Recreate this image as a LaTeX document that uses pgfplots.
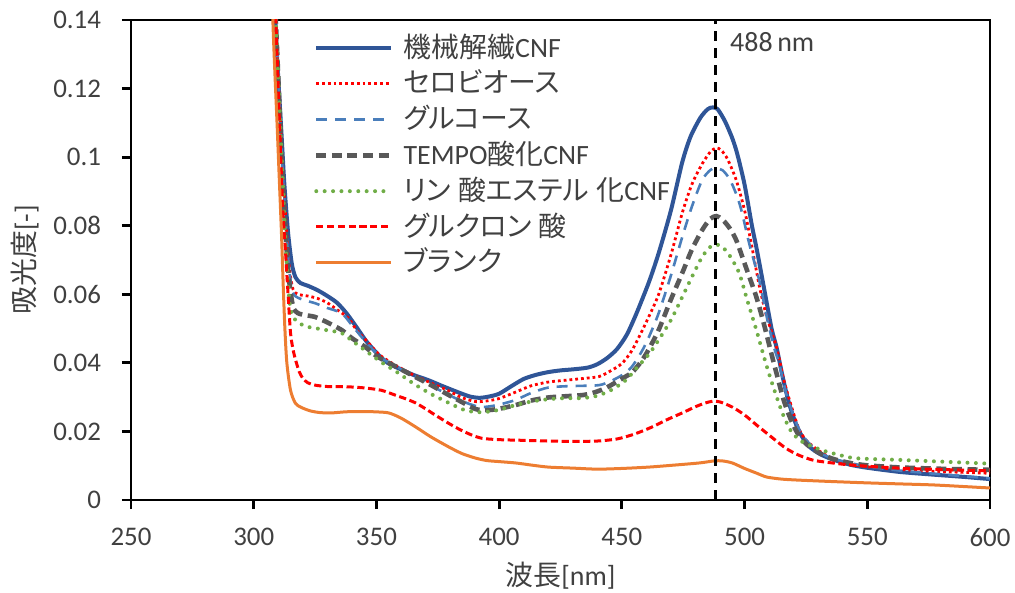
\documentclass[border=0pt]{standalone}
\usepackage{pgfplots}
\pgfplotsset{compat=1.18}
\usepackage{fontspec}
\setmainfont{Carlito}
\newfontfamily\jp{Noto Sans CJK JP}
\newfontfamily\jpp[RawFeature=+palt]{Noto Sans CJK JP}
\newcommand\gap{\hspace{3.5bp}}

\definecolor{txtgray}{HTML}{404040}
\definecolor{cnfblue}{HTML}{2F5597}
\definecolor{glcblue}{HTML}{4A7EBB}
\definecolor{tempogray}{HTML}{595959}
\definecolor{phosgreen}{HTML}{70AD47}
\definecolor{blankorange}{HTML}{ED7D31}

\begin{document}
\begin{tikzpicture}
\begin{axis}[
  at={(0,0)}, anchor=south west,
  scale only axis,
  width=429.5bp, height=240bp,
  xmin=250, xmax=600, ymin=0, ymax=0.14,
  xtick={250,300,...,600},
  ytick={0,0.02,...,0.14},
  axis line style={black, line width=1.4bp},
  tick style={black, line width=1.4bp},
  major tick length=4.5bp,
  tick align=outside,
  xtick pos=bottom, ytick pos=left,
  /pgf/number format/assume math mode=true,
  /pgf/number format/fixed,
  /pgf/number format/precision=2,
  tick label style={font=\fontsize{13.5}{15}\selectfont, text=txtgray},
  xticklabel style={yshift=-6bp},
  yticklabel style={xshift=-7bp},
  xlabel={{\jp 波長}[nm]},
  ylabel={{\jp 吸光度}[-]},
  xlabel style={at={(axis description cs:0.5,-0.157)}, anchor=center, font=\fontsize{14}{16}\selectfont, text=txtgray},
  ylabel style={at={(axis description cs:-0.1234,0.5)}, anchor=center, font=\fontsize{14}{16}\selectfont, text=txtgray},
  legend image code/.code={\draw[#1] (0bp,0bp) -- (37.5bp,0bp);},
  legend style={
    at={(rel axis cs:0.2130,0.979)}, anchor=north west,
    draw=none, fill=none, inner sep=0pt, outer sep=0pt,
    font=\fontsize{14}{16}\selectfont, text=txtgray,
    row sep=0pt, column sep=5bp,
    nodes={inner sep=0pt, text height=13.5bp, text depth=4.4bp},
  },
  legend cell align=left,
  every axis plot/.append style={smooth, tension=0.45},
]

% 機械解繊CNF
\addplot[cnfblue, line width=2bp] coordinates {
(307.8,0.16) (308.8,0.14) (310,0.123) (311.3,0.107) (312.5,0.092) (314,0.078)
(315.5,0.069) (317,0.065) (319,0.0633) (322,0.0625) (326,0.0612) (330,0.0595)
(334,0.0575) (338,0.0543) (342,0.0503) (346,0.0462) (351,0.0422) (355,0.0398)
(360,0.0381) (365,0.0365) (371,0.035) (377,0.0332) (383,0.0315) (388,0.0302)
(392,0.0298) (396,0.0302) (400,0.031) (405,0.0332) (410,0.0353) (415,0.0365)
(420,0.0373) (425,0.0378) (430,0.0381) (436,0.0386) (440,0.0396) (444,0.0414)
(448,0.0440) (452,0.0482) (456,0.0545) (461,0.0635) (465,0.072) (470,0.0845)
(474.6,0.0985) (478,0.106) (482,0.1115) (485,0.1140) (487,0.1145) (489,0.1140)
(492,0.1105) (495,0.1055) (497,0.1010) (500,0.092) (503,0.080) (505,0.073)
(508,0.0615) (511,0.050) (513,0.0446) (515.5,0.036) (518,0.0285) (521,0.022)
(524,0.0178) (527,0.0152) (531,0.0133) (536,0.0118) (543,0.0103) (550,0.0094)
(563,0.0082) (575,0.0075) (590,0.0067) (600,0.0061)
};
\addlegendentry{{\jp 機械解繊}CNF}

% セロビオース
\addplot[red, line width=1.4bp, dash pattern=on 1.4bp off 1.5bp] coordinates {
(307.8,0.16) (309,0.14) (310.3,0.12) (311.5,0.1) (313,0.083) (314.5,0.068)
(316,0.0615) (318,0.060) (322,0.0595) (326,0.0588) (330,0.0575) (334,0.0555)
(338.6,0.053) (342,0.0495) (346.8,0.0458) (351,0.0425) (355,0.0405) (359,0.0388)
(365,0.0365) (372,0.0342) (379,0.032) (385,0.0298) (390.5,0.0287) (395,0.0289)
(400,0.0296) (406.8,0.0315) (413,0.0333) (420,0.0344) (428,0.035) (435,0.0355)
(440.7,0.036) (445,0.0375) (450,0.0398) (454,0.0435) (458,0.049) (461,0.0535)
(465,0.060) (470,0.0715) (474.6,0.0837) (478.5,0.092) (482.7,0.098) (486,0.1015)
(488.5,0.1027) (490.5,0.102) (493,0.0995) (496.6,0.0933) (500,0.0845) (503,0.0738)
(506,0.0625) (509,0.0535) (513,0.0446) (516,0.035) (519,0.0275) (522,0.021)
(525,0.0175) (530,0.0145) (536,0.012) (543,0.0105) (550,0.0097) (563,0.0089)
(580,0.0083) (600,0.0078)
};
\addlegendentry{\jpp セロビオース}

% グルコース
\addplot[glcblue, line width=1.3bp, dash pattern=on 5.5bp off 4bp] coordinates {
(307.8,0.16) (309,0.14) (310.3,0.12) (311.5,0.10) (313,0.082) (314.5,0.067)
(316,0.0605) (318,0.059) (322,0.058) (325,0.0574) (330,0.056) (335.8,0.0545)
(340,0.051) (344,0.0475) (348,0.0443) (352,0.0415) (356,0.0397) (360,0.0382)
(366,0.036) (372,0.0335) (379,0.0308) (385,0.0288) (390,0.0275) (393,0.0271)
(397,0.0274) (401,0.028) (406.8,0.0292) (413,0.0312) (420,0.0328) (428,0.0332)
(434,0.0333) (440.7,0.0335) (445,0.0345) (450,0.0364) (454,0.0388) (458,0.0432)
(461,0.0475) (465,0.0545) (470,0.0655) (474.6,0.0767) (478.5,0.0855) (482.7,0.0933)
(486,0.0962) (488,0.0968) (491,0.0962) (494,0.0935) (497,0.0885) (499,0.0837)
(502,0.0745) (506,0.064) (509,0.0535) (512,0.0445) (514,0.040) (517,0.031)
(520,0.0245) (523,0.0195) (527,0.016) (531,0.0137) (536,0.0121) (543,0.0108)
(550,0.0098) (563,0.0086) (580,0.0075) (600,0.0063)
};
\addlegendentry{\jpp グルコース}

% TEMPO酸化CNF
\addplot[tempogray, line width=2.3bp, dash pattern=on 5bp off 2.8bp] coordinates {
(307.8,0.16) (309,0.14) (310.2,0.12) (311.4,0.10) (312.8,0.08) (314.3,0.065)
(316,0.0565) (318,0.0545) (322,0.0538) (325,0.0534) (330,0.0518) (335.8,0.0496)
(340,0.0472) (345.5,0.0446) (350,0.042) (355,0.040) (359,0.0385) (365,0.0362)
(372,0.0336) (379,0.0308) (385,0.0285) (390.5,0.0265) (395,0.0262) (400,0.0266)
(406.8,0.0277) (413,0.029) (420,0.0299) (428,0.0303) (434,0.0306) (438,0.0312)
(443,0.0325) (448,0.0345) (452,0.0362) (454,0.037) (458,0.0405) (461,0.0440)
(465,0.0496) (470,0.0585) (474.6,0.0662) (478.5,0.0730) (482.7,0.0787) (486,0.0820)
(488.5,0.0828) (491,0.0818) (494,0.0792) (496.6,0.0758) (500,0.0690) (504.8,0.0592)
(508,0.051) (511,0.0425) (513,0.037) (516,0.029) (519,0.0232) (522,0.0190)
(526,0.0158) (531,0.0135) (536,0.0120) (543,0.0108) (550,0.0101) (563,0.0095)
(580,0.0091) (600,0.0088)
};
\addlegendentry{TEMPO{\jp 酸化}CNF}

% リン酸エステル化CNF
\addplot[phosgreen, line width=2bp, line cap=round, dash pattern=on 0bp off 4.2bp] coordinates {
(307.8,0.16) (309,0.14) (310.2,0.12) (311.4,0.1) (312.6,0.08) (313.8,0.065)
(315,0.0555) (317,0.0525) (320,0.051) (322,0.0505) (326,0.050) (330,0.0495)
(335.8,0.0487) (340,0.0465) (346.8,0.0429) (352,0.0402) (359,0.037) (365,0.034)
(372,0.031) (379,0.0285) (386,0.0262) (392,0.0256) (397,0.0259) (401,0.0265)
(406.8,0.0277) (413,0.0287) (420,0.0294) (427,0.0297) (433.7,0.0297) (440,0.0304)
(446,0.0322) (451.7,0.035) (456,0.0385) (461,0.0425) (465,0.0467) (470,0.0525)
(474.6,0.0592) (478.5,0.0650) (482.7,0.0709) (486,0.0738) (488.5,0.0745) (491,0.0738)
(494,0.0712) (497.8,0.0662) (501,0.0585) (504.8,0.0496) (508,0.0415) (511,0.0345)
(515.4,0.0254) (519,0.020) (523,0.0172) (527,0.0158) (533,0.0142) (543,0.0124)
(550,0.012) (563,0.0117) (580,0.0112) (600,0.0106)
};
\addlegendentry{{\jpp リン\gap 酸エステル\gap 化}CNF}

% グルクロン酸
\addplot[red, line width=1.5bp, dash pattern=on 3.6bp off 1.8bp] coordinates {
(307.8,0.16) (309,0.14) (310,0.12) (311,0.10) (312,0.083) (313,0.072)
(314,0.060) (315,0.0487) (316,0.044) (317,0.041) (318.5,0.0375) (320,0.0355)
(322,0.0342) (325,0.0335) (330,0.0331) (338.6,0.033) (345,0.0327) (352,0.032)
(358,0.0305) (362,0.0295) (366,0.0283) (370,0.0266) (375,0.0243) (382,0.0213)
(388,0.0192) (393,0.018) (400,0.0176) (410,0.0174) (420,0.0172) (430,0.0171)
(440,0.0172) (448,0.0178) (455,0.0192) (462,0.0212) (468,0.0233) (474.6,0.0254)
(480,0.0272) (484,0.0283) (487,0.0288) (490,0.0286) (495,0.0271) (500,0.0248)
(505,0.0218) (509,0.0195) (513,0.0172) (517,0.0150) (522,0.0131) (528,0.0116)
(535.8,0.0108) (545,0.0101) (563,0.0093) (580,0.0089) (600,0.0085)
};
\addlegendentry{\jpp グルクロン\gap 酸}

% ブランク
\addplot[blankorange, line width=1.5bp] coordinates {
(307.2,0.16) (307.8,0.14) (308.6,0.125) (309.5,0.11) (310.4,0.094) (311.3,0.078)
(312,0.063) (312.7,0.05) (313.5,0.04) (315,0.032) (317,0.0282) (319.4,0.027)
(323,0.026) (327,0.0255) (331.7,0.0254) (337,0.0257) (341,0.0258) (345.5,0.0258)
(350,0.0257) (355,0.0254) (360,0.0239) (366,0.0213) (372,0.0185) (379.4,0.0155)
(385,0.0135) (390.5,0.0122) (395,0.0115) (400,0.0112) (406.8,0.0108) (413,0.0102)
(420,0.0096) (430,0.0093) (440,0.009) (450,0.0092) (461,0.0096) (470,0.0101)
(481.5,0.0108) (487.6,0.0114) (491,0.0114) (495,0.0108) (500,0.0092) (505,0.0078)
(509,0.0067) (515,0.0061) (522,0.0058) (535,0.0054) (549.7,0.005) (563,0.0047)
(576.7,0.0044) (590,0.0039) (600,0.0035)
};
\addlegendentry{\jpp ブランク}

% 488 nm marker line
\addplot[black, line width=1.4bp, dash pattern=on 5bp off 3.5bp, sharp plot, forget plot]
  coordinates {(488,0) (488,0.14)};
\node[anchor=west, inner sep=0pt, font=\fontsize{14}{16}\selectfont, text=txtgray]
  at (axis cs:494,0.1336) {488\,nm};

\end{axis}
\pgfresetboundingbox
\path[use as bounding box] (-65.5bp,-46.5bp) rectangle (442bp,250bp);
\end{tikzpicture}
\end{document}
